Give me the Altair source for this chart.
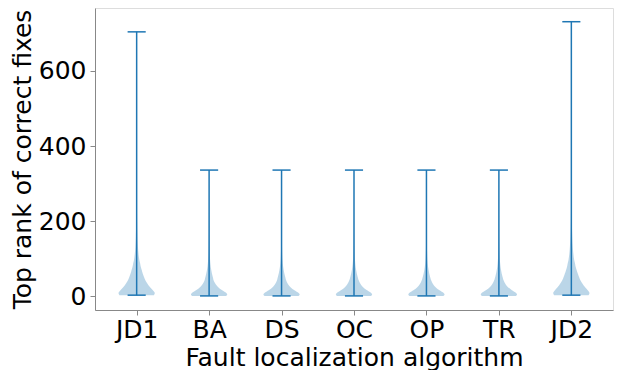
import altair as alt
import pandas as pd

algorithms = ["JD1", "BA", "DS", "OC", "OP", "TR", "JD2"]
rank_min = [3, 1, 1, 1, 1, 1, 3]
rank_max = [704, 336, 336, 336, 336, 336, 731]

# violin profiles: rank values and relative half-width (1 = widest)
jd1_rank = [3, 6, 9, 14, 25, 35, 43, 52, 60, 70, 78, 88, 96, 114, 132, 160, 200, 260, 350, 450, 550, 704]
jd1_rel = [0.95, 0.99, 1.0, 0.93, 0.73, 0.58, 0.48, 0.40, 0.34, 0.28, 0.23, 0.19, 0.15, 0.10, 0.07, 0.045, 0.025, 0.012, 0.006, 0.003, 0.0015, 0.0]

ba_rank = [1, 5, 10, 16, 25, 38, 52, 69, 87, 110, 140, 180, 230, 280, 336]
ba_rel = [0.93, 1.0, 0.92, 0.72, 0.49, 0.29, 0.20, 0.12, 0.07, 0.04, 0.022, 0.012, 0.006, 0.003, 0.0]

ds_rank = [1, 5, 10, 16, 25, 38, 52, 69, 87, 110, 140, 180, 230, 280, 336]
ds_rel = [0.93, 1.0, 0.91, 0.71, 0.48, 0.29, 0.20, 0.12, 0.07, 0.04, 0.022, 0.012, 0.006, 0.003, 0.0]

oc_rank = [1, 5, 10, 16, 25, 38, 52, 69, 87, 110, 140, 180, 230, 280, 336]
oc_rel = [0.93, 1.0, 0.92, 0.72, 0.49, 0.30, 0.20, 0.12, 0.07, 0.04, 0.022, 0.012, 0.006, 0.003, 0.0]

op_rank = [1, 5, 10, 16, 25, 38, 52, 69, 87, 110, 140, 180, 230, 280, 336]
op_rel = [0.93, 1.0, 0.92, 0.72, 0.49, 0.30, 0.20, 0.12, 0.07, 0.04, 0.022, 0.012, 0.006, 0.003, 0.0]

tr_rank = [1, 5, 10, 16, 25, 38, 52, 69, 87, 110, 140, 180, 230, 280, 336]
tr_rel = [0.93, 1.0, 0.92, 0.72, 0.49, 0.30, 0.20, 0.12, 0.07, 0.04, 0.022, 0.012, 0.006, 0.003, 0.0]

jd2_rank = [3, 6, 9, 14, 25, 35, 43, 52, 60, 70, 78, 88, 96, 114, 132, 160, 200, 260, 350, 450, 550, 731]
jd2_rel = [0.95, 0.99, 1.0, 0.94, 0.75, 0.60, 0.50, 0.42, 0.36, 0.29, 0.24, 0.20, 0.16, 0.11, 0.08, 0.05, 0.028, 0.014, 0.007, 0.0035, 0.0018, 0.0]

profiles = [(jd1_rank, jd1_rel), (ba_rank, ba_rel), (ds_rank, ds_rel), (oc_rank, oc_rel),
            (op_rank, op_rel), (tr_rank, tr_rel), (jd2_rank, jd2_rel)]

rows = []
for i, (name, (rk, rl)) in enumerate(zip(algorithms, profiles)):
    for r, w in zip(rk, rl):
        rows.append({"alg": name, "pos": i + 1, "rank": r, "rel": w})
violin_df = pd.DataFrame(rows)

stats_df = pd.DataFrame({
    "alg": algorithms,
    "pos": list(range(1, len(algorithms) + 1)),
    "lo": rank_min,
    "hi": rank_max,
})

BLUE = "#1f77b4"
FONT = "DejaVu Sans"
FS = 25
label_expr = "[" + ",".join(f"'{a}'" for a in algorithms) + "][datum.value - 1]"

x_scale = alt.Scale(domain=[0.425, 7.575], nice=False, zero=False)
y_scale = alt.Scale(domain=[-36.5, 767.5], nice=False, zero=False)

x_axis = alt.Axis(values=list(range(1, 8)), labelExpr=label_expr, grid=False,
                  title="Fault localization algorithm", titleFontSize=FS,
                  titleFontWeight="normal", labelFontSize=FS, tickSize=5,
                  labelPadding=2, titlePadding=3, labelAngle=0,
                  labelFont=FONT, titleFont=FONT)
y_axis = alt.Axis(values=[0, 200, 400, 600], grid=False,
                  title="Top rank of correct fixes", titleFontSize=FS,
                  titleFontWeight="normal", labelFontSize=FS, tickSize=5,
                  labelPadding=4, titlePadding=3,
                  labelFont=FONT, titleFont=FONT)

violins = alt.Chart(violin_df).transform_calculate(
    xlo="datum.pos - 0.25 * datum.rel",
    xhi="datum.pos + 0.25 * datum.rel",
).mark_area(orient="horizontal", color=BLUE, opacity=0.3, interpolate="monotone").encode(
    y=alt.Y("rank:Q", scale=y_scale, axis=y_axis),
    x=alt.X("xlo:Q", scale=x_scale, axis=x_axis),
    x2="xhi:Q",
    detail="alg:N",
)

stems = alt.Chart(stats_df).mark_rule(color=BLUE, strokeWidth=1.5).encode(
    x=alt.X("pos:Q", scale=x_scale),
    y=alt.Y("lo:Q", scale=y_scale),
    y2="hi:Q",
)

caps_base = alt.Chart(stats_df).transform_calculate(
    clo="datum.pos - 0.125",
    chi="datum.pos + 0.125",
)
cap_lo = caps_base.mark_rule(color=BLUE, strokeWidth=1.5).encode(
    x=alt.X("clo:Q", scale=x_scale), x2="chi:Q", y=alt.Y("lo:Q", scale=y_scale))
cap_hi = caps_base.mark_rule(color=BLUE, strokeWidth=1.5).encode(
    x=alt.X("clo:Q", scale=x_scale), x2="chi:Q", y=alt.Y("hi:Q", scale=y_scale))

chart = alt.layer(violins, stems, cap_lo, cap_hi).properties(
    width=518, height=302,
    autosize=alt.AutoSizeParams(type="none"),
    padding={"left": 95, "top": 8, "right": 7, "bottom": 60},
).configure_view(stroke="black", strokeWidth=1).configure_axis(
    labelFont=FONT, titleFont=FONT, labelColor="black",
    titleColor="black", domainColor="black", tickColor="black", domain=True,
).configure(background="white", font=FONT)

chart.save("out.html", embed_options={"renderer": "svg", "actions": False})
